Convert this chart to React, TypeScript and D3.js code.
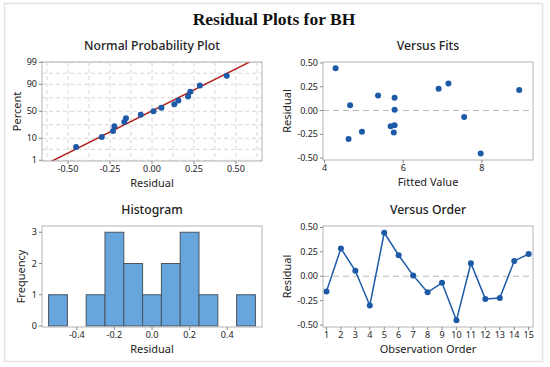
import * as d3 from 'd3';

// residuals in observation order
const residuals = [-0.155, 0.285, 0.056, -0.299, 0.445, 0.215, 0.009, -0.165, -0.067, -0.452, 0.133, -0.232, -0.224, 0.157, 0.228];
// fitted values in the same order
const fitted = [5.78, 7.15, 4.65, 4.61, 4.28, 8.95, 5.78, 5.68, 7.55, 7.97, 5.78, 5.76, 4.95, 5.36, 6.9];
const order = d3.range(1, 16);

// histogram bins (centre) and counts
const binCenters = [-0.5, -0.4, -0.3, -0.2, -0.1, 0.0, 0.1, 0.2, 0.3, 0.4, 0.5];
const binCounts = [1, 0, 1, 3, 2, 1, 2, 3, 1, 0, 1];

const nppXTicks = [-0.5, -0.25, 0, 0.25, 0.5];
const nppYTicks = [1, 10, 50, 90, 99];
const residTicks = [-0.5, -0.25, 0, 0.25, 0.5];
const fitTicks = [4, 6, 8];
const histXTicks = [-0.4, -0.2, 0, 0.2, 0.4];
const histYTicks = [0, 1, 2, 3];

const FONT = '"Noto Sans", "Open Sans", sans-serif';
const BLUE = '#1c5aa8';
const FRAME = '#b4b4b4';
const TXT = '#222';

// inverse normal cdf (Acklam)
function normInv(p: number) {
  const a = [-39.69683028665376, 220.9460984245205, -275.9285104469687, 138.357751867269, -30.66479806614716, 2.506628277459239];
  const b = [-54.47609879822406, 161.5858368580409, -155.6989798598866, 66.80131188771972, -13.28068155288572];
  const c = [-0.007784894002430293, -0.3223964580411365, -2.400758277161838, -2.549732539343734, 4.374664141464968, 2.938163982698783];
  const d = [0.007784695709041462, 0.3224671290700398, 2.445134137142996, 3.754408661907416];
  const pl = 0.02425;
  if (p < pl) {
    const q = Math.sqrt(-2 * Math.log(p));
    return (((((c[0] * q + c[1]) * q + c[2]) * q + c[3]) * q + c[4]) * q + c[5]) / ((((d[0] * q + d[1]) * q + d[2]) * q + d[3]) * q + 1);
  }
  if (p <= 1 - pl) {
    const q = p - 0.5;
    const r = q * q;
    return (((((a[0] * r + a[1]) * r + a[2]) * r + a[3]) * r + a[4]) * r + a[5]) * q / (((((b[0] * r + b[1]) * r + b[2]) * r + b[3]) * r + b[4]) * r + 1);
  }
  const q = Math.sqrt(-2 * Math.log(1 - p));
  return -(((((c[0] * q + c[1]) * q + c[2]) * q + c[3]) * q + c[4]) * q + c[5]) / ((((d[0] * q + d[1]) * q + d[2]) * q + d[3]) * q + 1);
}

const fmt2 = d3.format('.2f');
const fmt1 = d3.format('.1f');
const lbl = (f: (n: number) => string) => (v: number) => f(v).replace('−', '-');

type Box = { l: number; r: number; t: number; b: number };

const Frame = ({ box }: { box: Box }) => (
  <rect x={box.l} y={box.t} width={box.r - box.l} height={box.b - box.t} fill="none" stroke={FRAME} strokeWidth={1} />
);

const XAxis = ({ box, ticks, x, fmt }: { box: Box; ticks: number[]; x: (v: number) => number; fmt: (v: number) => string }) => (
  <g>
    {ticks.map((t) => (
      <g key={t}>
        <line x1={x(t)} x2={x(t)} y1={box.b} y2={box.b + 3} stroke="#888" />
        <text x={x(t)} y={box.b + 11} fontSize={9} textAnchor="middle" fill={TXT} fontFamily={FONT}>{fmt(t)}</text>
      </g>
    ))}
  </g>
);

const YAxis = ({ box, ticks, y, fmt }: { box: Box; ticks: number[]; y: (v: number) => number; fmt: (v: number) => string }) => (
  <g>
    {ticks.map((t) => (
      <g key={t}>
        <line x1={box.l - 3} x2={box.l} y1={y(t)} y2={y(t)} stroke="#888" />
        <text x={box.l - 5} y={y(t) + 3} fontSize={9} textAnchor="end" fill={TXT} fontFamily={FONT}>{fmt(t)}</text>
      </g>
    ))}
  </g>
);

const Titles = ({ box, title, xl, yl, ylx }: { box: Box; title: string; xl: string; yl: string; ylx: number }) => {
  const cx = (box.l + box.r) / 2;
  const cy = (box.t + box.b) / 2;
  return (
    <g fontFamily={FONT} fill={TXT}>
      <text x={cx} y={box.t - 12} fontSize={12.2} textAnchor="middle" fontWeight={500}>{title}</text>
      <text x={cx} y={box.b + 26} fontSize={11} textAnchor="middle">{xl}</text>
      <text transform={`translate(${ylx},${cy}) rotate(-90)`} fontSize={11} textAnchor="middle">{yl}</text>
    </g>
  );
};

export default function App() {
  // Normal probability plot
  const nb: Box = { l: 42, r: 262, t: 62, b: 161 };
  const nx = d3.scaleLinear().domain([-0.655, 0.655]).range([nb.l, nb.r]);
  const ny = d3.scaleLinear().domain([-2.36, 2.34]).range([nb.b, nb.t]);
  const sorted = [...residuals].sort((a, b) => a - b);
  const n = sorted.length;
  const nppPts = sorted.map((v, i) => ({ x: v, z: normInv((i + 1 - 0.3) / (n + 0.4)) }));
  const mu = d3.mean(residuals) as number;
  const sd = d3.deviation(residuals) as number;
  const fitLine = d3.line<number>().x((z) => nx(mu + sd * z)).y((z) => ny(z));
  const zTicks = nppYTicks.map((p) => normInv(p / 100));
  const zGrid = [...zTicks, ...d3.pairs(zTicks).map(([a, b]) => (a + b) / 2)];
  const xGrid = d3.range(-0.625, 0.626, 0.125);

  // Versus fits
  const fb: Box = { l: 323, r: 533, t: 62, b: 160 };
  const fx = d3.scaleLinear().domain([3.96, 9.3]).range([fb.l, fb.r]);
  const fy = d3.scaleLinear().domain([-0.52, 0.51]).range([fb.b, fb.t]);

  // Histogram
  const hb: Box = { l: 42, r: 262, t: 226, b: 327 };
  const hx = d3.scaleLinear().domain([-0.585, 0.585]).range([hb.l, hb.r]);
  const hy = d3.scaleLinear().domain([0, 3.2]).range([326, hb.t]);

  // Versus order
  const ob: Box = { l: 323, r: 533, t: 226, b: 327 };
  const ox = d3.scaleLinear().domain([0.76, 15.3]).range([ob.l, ob.r]);
  const oy = d3.scaleLinear().domain([-0.52, 0.515]).range([ob.b, ob.t]);
  const orderLine = d3.line<number>().x((_, i) => ox(order[i])).y((v) => oy(v));

  return (
    <svg width={550} height={367} style={{ position: 'absolute', left: 0, top: 0, background: '#fff' }}>
      <rect x={4.5} y={3.5} width={538} height={358} fill="#fff" stroke="#e4e4e4" strokeWidth={1.5} />
      <text x={274} y={25} textAnchor="middle" fontFamily='"Liberation Serif", "Times New Roman", serif' fontWeight="bold" fontSize={17.5} fill="#111">
        Residual Plots for BH
      </text>

      {/* Normal probability plot */}
      <defs>
        <clipPath id="npp-clip">
          <rect x={nb.l} y={nb.t} width={nb.r - nb.l} height={nb.b - nb.t} />
        </clipPath>
      </defs>
      <g stroke="#d6d6d6" strokeDasharray="4,3" strokeWidth={1}>
        {xGrid.map((g) => <line key={'x' + g} x1={nx(g)} x2={nx(g)} y1={nb.t} y2={nb.b} />)}
        {zGrid.map((g) => <line key={'z' + g} x1={nb.l} x2={nb.r} y1={ny(g)} y2={ny(g)} />)}
      </g>
      <path d={fitLine([-3, 3]) || ''} fill="none" stroke="#b0201e" strokeWidth={1.5} clipPath="url(#npp-clip)" />
      {nppPts.map((p, i) => <circle key={i} cx={nx(p.x)} cy={ny(p.z)} r={3} fill={BLUE} />)}
      <Frame box={nb} />
      <XAxis box={nb} ticks={nppXTicks} x={nx} fmt={lbl(fmt2)} />
      <YAxis box={nb} ticks={zTicks} y={ny} fmt={(z) => String(nppYTicks[zTicks.indexOf(z)])} />
      <Titles box={nb} title="Normal Probability Plot" xl="Residual" yl="Percent" ylx={21} />

      {/* Versus fits */}
      <line x1={fb.l} x2={fb.r} y1={fy(0)} y2={fy(0)} stroke="#b8b8b8" strokeDasharray="6,4" />
      {residuals.map((v, i) => <circle key={i} cx={fx(fitted[i])} cy={fy(v)} r={3} fill={BLUE} />)}
      <Frame box={fb} />
      <XAxis box={fb} ticks={fitTicks} x={fx} fmt={(v) => String(v)} />
      <YAxis box={fb} ticks={residTicks} y={fy} fmt={lbl(fmt2)} />
      <Titles box={fb} title="Versus Fits" xl="Fitted Value" yl="Residual" ylx={291} />

      {/* Histogram */}
      {binCenters.map((c, i) => binCounts[i] > 0 && (
        <rect key={i} x={hx(c - 0.05)} y={hy(binCounts[i])} width={hx(c + 0.05) - hx(c - 0.05)} height={hy(0) - hy(binCounts[i])}
          fill="#66a6dc" stroke="#4a5560" strokeWidth={1} />
      ))}
      <Frame box={hb} />
      <XAxis box={hb} ticks={histXTicks} x={hx} fmt={lbl(fmt1)} />
      <YAxis box={hb} ticks={histYTicks} y={hy} fmt={(v) => String(v)} />
      <Titles box={hb} title="Histogram" xl="Residual" yl="Frequency" ylx={25} />

      {/* Versus order */}
      <line x1={ob.l} x2={ob.r} y1={oy(0)} y2={oy(0)} stroke="#b8b8b8" strokeDasharray="6,4" />
      <path d={orderLine(residuals) || ''} fill="none" stroke={BLUE} strokeWidth={1.5} />
      {residuals.map((v, i) => <circle key={i} cx={ox(order[i])} cy={oy(v)} r={3} fill={BLUE} />)}
      <Frame box={ob} />
      <XAxis box={ob} ticks={order} x={ox} fmt={(v) => String(v)} />
      <YAxis box={ob} ticks={residTicks} y={oy} fmt={lbl(fmt2)} />
      <Titles box={ob} title="Versus Order" xl="Observation Order" yl="Residual" ylx={291} />
    </svg>
  );
}
